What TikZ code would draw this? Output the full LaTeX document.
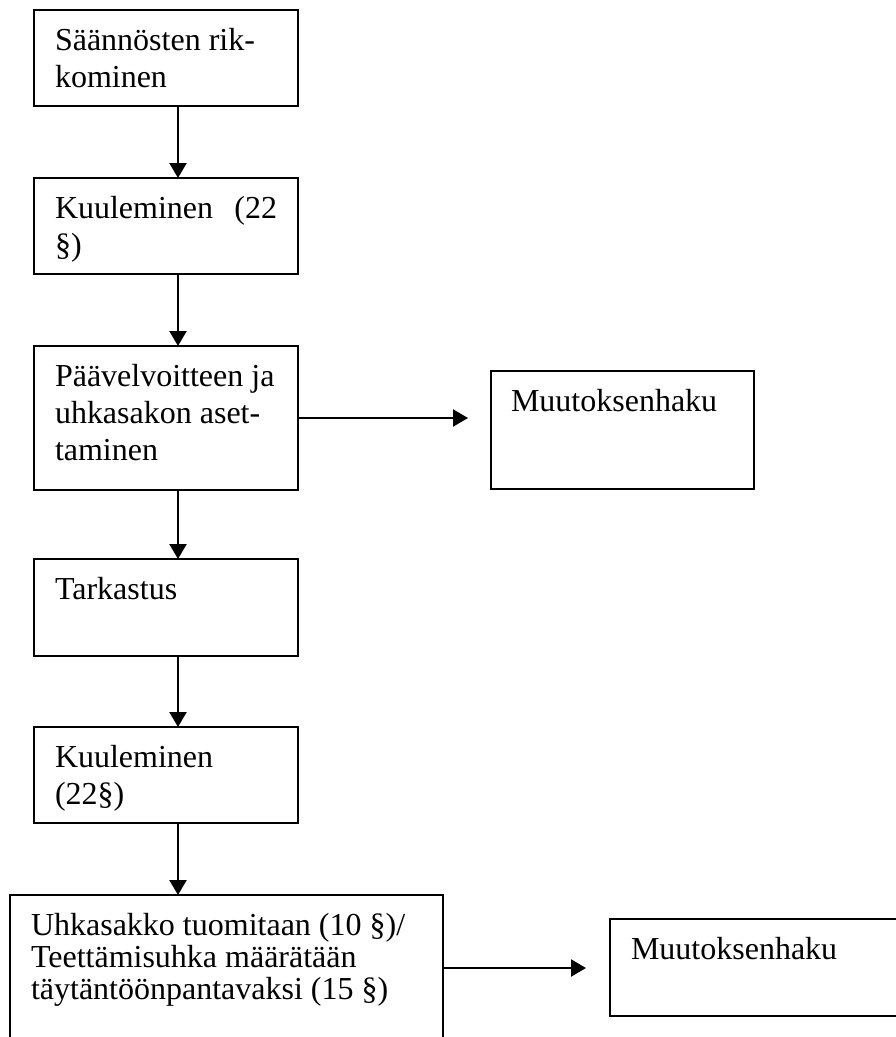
\documentclass[tikz,border=0pt]{standalone}
\usepackage{fontspec}
\setmainfont{Liberation Serif}
\usetikzlibrary{positioning,arrows.meta}

\newcommand{\boxtext}[4][37pt]{\parbox[c][#3][t]{#2}{\fontsize{32pt}{#1}\selectfont\raggedright\rule{0pt}{40pt}#4}}

\begin{document}
\begin{tikzpicture}[x=1pt, y=1pt, >={Triangle[length=15pt,width=17pt]},
  box/.style={draw, line width=1.6pt, inner xsep=21pt, inner ysep=0pt, outer sep=0pt},
  flow/.style={->, line width=2.2pt}]
\useasboundingbox (0,0) rectangle (896,-1037);
\clip (0,0) rectangle (896,-1037);
\node[box, anchor=north west] (rikk) at (34,-10) {\boxtext{222pt}{96pt}{Säännösten rik-\\kominen}};
\node[box, below=72pt of rikk] (kuul1) {\boxtext{222pt}{96pt}{Kuuleminen\hfill(22\\§)}};
\node[box, below=72pt of kuul1] (asetus) {\boxtext{222pt}{144pt}{Päävelvoitteen ja\\uhkasakon aset-\\taminen}};
\node[box, below=69pt of asetus] (tark) {\boxtext{222pt}{97pt}{Tarkastus}};
\node[box, below=71pt of tark] (kuul2) {\boxtext{222pt}{96pt}{Kuuleminen\\(22§)}};
\node[box, below=72pt of kuul2.south west, anchor=north west, xshift=-24pt] (tuom) {\boxtext[32pt]{391pt}{146pt}{Uhkasakko tuomitaan (10 §)/\\Teettämisuhka määrätään\\täytäntöönpantavaksi (15 §)}};
\node[box, right=193pt of asetus.north east, anchor=north west, yshift=-25pt, inner xsep=20pt] (muutos1) {\boxtext{223pt}{118pt}{Muutoksenhaku}};
\node[box, right=167pt of tuom.north east, anchor=north west, yshift=-24pt] (muutos2) {\boxtext{260pt}{97pt}{Muutoksenhaku}};
\draw[flow] ([xshift=12pt]rikk.south) -- ([xshift=12pt]kuul1.north);
\draw[flow] ([xshift=12pt]kuul1.south) -- ([xshift=12pt]asetus.north);
\draw[flow] ([xshift=12pt]asetus.south) -- ([xshift=12pt]tark.north);
\draw[flow] ([xshift=12pt]tark.south) -- ([xshift=12pt]kuul2.north);
\draw[flow] ([xshift=12pt]kuul2.south) -- ([xshift=12pt]kuul2.south |- tuom.north);
\draw[flow, shorten >=23pt] (asetus.east) -- (asetus.east -| muutos1.west);
\draw[flow, shorten >=24pt] (tuom.east) -- (tuom.east -| muutos2.west);
\end{tikzpicture}
\end{document}
